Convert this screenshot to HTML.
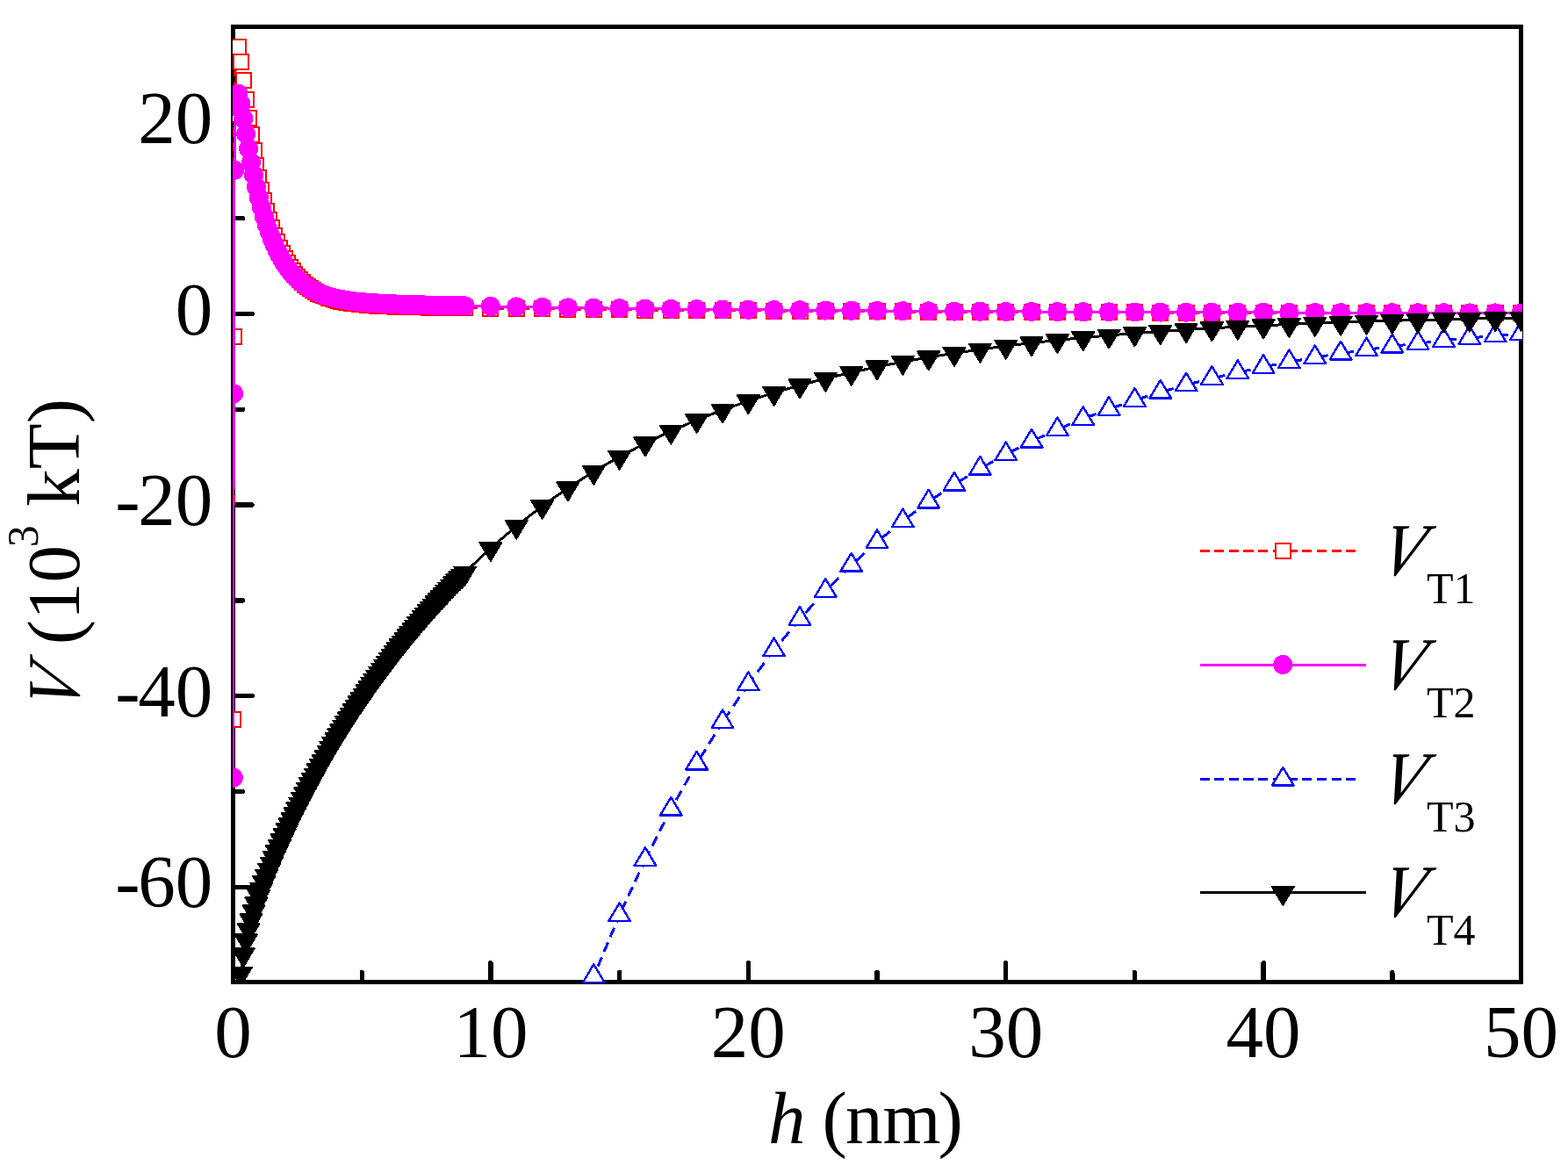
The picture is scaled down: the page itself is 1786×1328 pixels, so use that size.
<!DOCTYPE html>
<html lang="en">
<head>
<meta charset="utf-8">
<title>Interaction potential V versus separation h</title>
<style>
html,body{margin:0;padding:0;background:#fff;}
body{width:1786px;height:1328px;overflow:hidden;}
svg{display:block;}
text{font-family:"Liberation Serif",serif;font-size:85px;fill:#000;}
.s{font-size:50px;}
</style>
</head>
<body>
<svg width="1786" height="1328" viewBox="0 0 1786 1328" role="img" aria-label="Line chart of interaction potential V (10^3 kT) versus separation h (nm) for four curves VT1 to VT4">
<rect width="1786" height="1328" fill="#fff"/>
<defs>
<clipPath id="clip"><rect x="265" y="30" width="1469" height="1090"/></clipPath>
<rect id="mS" x="-8.5" y="-8.5" width="17.0" height="17.0" fill="#fff" stroke="#f00" stroke-width="2.0"/>
<circle id="mC" r="11.0" fill="#f0f"/>
<path id="mU" d="M0,-13.73 L12.30,6.87 L-12.30,6.87 Z" fill="#fff" stroke="#00f" stroke-width="2.4" stroke-linejoin="round"/>
<path id="mD" d="M-12.50,-6.50 L12.50,-6.50 L0,14.50 Z" fill="#000" stroke="#000" stroke-width="2.0" stroke-linejoin="round"/>
</defs>
<g shape-rendering="crispEdges">
<rect x="265.5" y="30.5" width="1467.0" height="1088.0" fill="none" stroke="#000" stroke-width="5"/>
<g stroke="#000" stroke-width="5.4" stroke-linecap="round">
<line x1="412.2" y1="1118.5" x2="412.2" y2="1107.6"/>
<line x1="558.9" y1="1118.5" x2="558.9" y2="1096.9"/>
<line x1="705.6" y1="1118.5" x2="705.6" y2="1107.6"/>
<line x1="852.3" y1="1118.5" x2="852.3" y2="1096.9"/>
<line x1="999" y1="1118.5" x2="999" y2="1107.6"/>
<line x1="1145.7" y1="1118.5" x2="1145.7" y2="1096.9"/>
<line x1="1292.4" y1="1118.5" x2="1292.4" y2="1107.6"/>
<line x1="1439.1" y1="1118.5" x2="1439.1" y2="1096.9"/>
<line x1="1585.8" y1="1118.5" x2="1585.8" y2="1107.6"/>
<line x1="265.5" y1="1010.3" x2="287.1" y2="1010.3"/>
<line x1="265.5" y1="901.5" x2="276.4" y2="901.5"/>
<line x1="265.5" y1="792.7" x2="287.1" y2="792.7"/>
<line x1="265.5" y1="683.9" x2="276.4" y2="683.9"/>
<line x1="265.5" y1="575.1" x2="287.1" y2="575.1"/>
<line x1="265.5" y1="466.3" x2="276.4" y2="466.3"/>
<line x1="265.5" y1="357.5" x2="287.1" y2="357.5"/>
<line x1="265.5" y1="248.7" x2="276.4" y2="248.7"/>
<line x1="265.5" y1="139.9" x2="287.1" y2="139.9"/>
</g>
<g clip-path="url(#clip)">
<path d="M266.1,383.3L266.1,391.3M266.1,397.8L266.1,408.2M266.1,414.5L266.1,424.9M266.1,431.1L266,441.5M266,447.8L266,458.2M266,464.4L266,474.8M266,481.1L266,491.5M266,497.8L266,508.2M266,514.4L266,524.8M266,531.1L266,541.5M266,547.7L266,558.1M266,564.4L266,574.8M266,581.1L265.9,591.5M265.9,597.7L265.9,608.1M265.9,614.4L265.9,624.8M265.9,631L265.9,641.4M265.9,647.7L265.9,658.1M265.9,664.4L265.9,674.8M265.9,681L265.9,691.4M265.9,697.7L265.9,708.1M265.9,714.3L265.9,724.7M265.9,731L265.8,741.4M265.8,747.7L265.8,758.1M265.8,764.3L265.8,774.7M265.8,781L265.8,791.4M265.8,797.6L265.8,808M265.8,814.3L265.8,819.9M267,130.8L266.9,138.8M266.9,145.3L266.9,155.7M266.9,162L266.8,172.4M266.8,178.6L266.8,189M266.7,195.3L266.7,205.7M266.7,211.9L266.6,222.3M266.6,228.6L266.6,239M266.6,245.3L266.5,255.7M266.5,261.9L266.5,272.3M266.5,278.6L266.4,289M266.4,295.2L266.4,305.6M266.3,311.9L266.3,322.3M266.3,328.6L266.2,339M266.2,345.2L266.2,355.6M266.2,361.9L266.1,372.3M266.1,378.5L266.1,383.3M268.4,61.7L268.3,69.7M268.1,76.2L267.9,86.6M267.8,92.9L267.6,103.3M267.4,109.5L267.2,119.9M267.1,126.2L267,130.8M271.4,53L268.7,61M274.3,70.3L272.9,62.3M271.8,55.8L271.4,53M277.2,91.9L276.1,83.9M275.3,77.4L274.3,70.3M280.2,113.6L279.1,105.6M278.2,99.1L277.2,91.9M283.1,134.4L282,126.4M281.1,119.9L280.2,113.6M286,153.8L284.8,145.8M283.8,139.3L283.1,134.4M289,171.6L287.7,163.6M286.6,157.1L286,153.8M291.9,188L290.5,180M289.3,173.5L289,171.6M294.8,202.9L293.3,194.9M292,188.4L291.9,188M297.8,216.5L296,208.5M300.7,228.9L298.8,220.9M303.6,240.2L301.6,232.2M306.6,250.4L304.3,242.4M309.5,259.6L307,251.6M312.4,268L309.7,260M315.4,275.7L312.4,268M318.3,282.6L315.4,275.7M321.2,288.8L318.3,282.6M324.2,294.5L321.2,288.8M327.1,299.6L324.2,294.5M330,304.3L327.1,299.6M333,308.5L330,304.3M335.9,312.3L333,308.5M338.9,315.8L335.9,312.3M341.8,318.9L338.9,315.8M344.7,321.8L341.8,318.9M347.7,324.3L344.7,321.8M350.6,326.7L347.7,324.3M353.5,328.8L350.6,326.7M356.5,330.7L353.5,328.8M359.4,332.4L356.5,330.7M362.3,334L359.4,332.4M365.3,335.4L362.3,334M368.2,336.7L365.3,335.4M371.1,337.9L368.2,336.7M374.1,339L371.1,337.9M377,339.9L374.1,339M379.9,340.8L377,339.9M382.9,341.6L379.9,340.8M385.8,342.3L382.9,341.6M388.7,343L385.8,342.3M391.7,343.6L388.7,343M394.6,344.1L391.7,343.6M397.5,344.6L394.6,344.1M400.5,345.1L397.5,344.6M403.4,345.5L400.5,345.1M406.3,345.9L403.4,345.5M409.3,346.2L406.3,345.9M412.2,346.5L409.3,346.2M415.1,346.8L412.2,346.5M418.1,347.1L415.1,346.8M421,347.3L418.1,347.1M423.9,347.6L421,347.3M426.9,347.8L423.9,347.6M429.8,348L426.9,347.8M432.7,348.1L429.8,348M435.7,348.3L432.7,348.1M438.6,348.5L435.7,348.3M441.5,348.6L438.6,348.5M444.5,348.7L441.5,348.6M447.4,348.9L444.5,348.7M450.3,349L447.4,348.9M453.3,349.1L450.3,349M456.2,349.2L453.3,349.1M459.1,349.3L456.2,349.2M462.1,349.4L459.1,349.3M465,349.4L462.1,349.4M467.9,349.5L465,349.4M470.9,349.6L467.9,349.5M473.8,349.7L470.9,349.6M476.7,349.7L473.8,349.7M479.7,349.8L476.7,349.7M482.6,349.9L479.7,349.8M485.6,349.9L482.6,349.9M488.5,350L485.6,349.9M491.4,350L488.5,350M494.4,350.1L491.4,350M497.3,350.2L494.4,350.1M500.2,350.2L497.3,350.2M503.2,350.3L500.2,350.2M506.1,350.3L503.2,350.3M509,350.4L506.1,350.3M512,350.4L509,350.4M514.9,350.4L512,350.4M517.8,350.5L514.9,350.4M520.8,350.5L517.8,350.5M523.7,350.6L520.8,350.5M526.6,350.6L523.7,350.6M529.6,350.7L526.6,350.6M558.9,351.1L550.9,351M544.4,350.9L534,350.7M588.2,351.4L580.2,351.3M573.7,351.2L563.3,351.1M617.6,351.8L609.6,351.7M603.1,351.6L592.7,351.5M646.9,352.1L638.9,352M632.4,351.9L622,351.8M676.3,352.4L668.3,352.3M661.8,352.2L651.4,352.1M705.6,352.7L697.6,352.6M691.1,352.5L680.7,352.4M734.9,353L726.9,352.9M720.4,352.8L710,352.7M764.3,353.2L756.3,353.1M749.8,353.1L739.4,353M793.6,353.5L785.6,353.4M779.1,353.3L768.7,353.3M823,353.7L815,353.6M808.5,353.6L798.1,353.5M852.3,353.9L844.3,353.8M837.8,353.8L827.4,353.7M881.6,354.1L873.6,354M867.1,354L856.7,353.9M911,354.3L903,354.2M896.5,354.2L886.1,354.1M940.3,354.5L932.3,354.4M925.8,354.4L915.4,354.3M969.7,354.6L961.7,354.6M955.2,354.5L944.8,354.5M999,354.8L991,354.7M984.5,354.7L974.1,354.7M1028.3,354.9L1020.3,354.9M1013.8,354.9L1003.4,354.8M1057.7,355.1L1049.7,355M1043.2,355L1032.8,355M1087,355.2L1079,355.2M1072.5,355.1L1062.1,355.1M1116.4,355.3L1108.4,355.3M1101.9,355.3L1091.5,355.2M1145.7,355.4L1137.7,355.4M1131.2,355.4L1120.8,355.3M1175,355.5L1167,355.5M1160.5,355.5L1150.1,355.4M1204.4,355.6L1196.4,355.6M1189.9,355.6L1179.5,355.5M1233.7,355.7L1225.7,355.7M1219.2,355.7L1208.8,355.6M1263.1,355.8L1255.1,355.8M1248.6,355.8L1238.2,355.7M1292.4,355.9L1284.4,355.9M1277.9,355.8L1267.5,355.8M1321.7,356L1313.7,355.9M1307.2,355.9L1296.8,355.9M1351.1,356L1343.1,356M1336.6,356L1326.2,356M1380.4,356.1L1372.4,356.1M1365.9,356.1L1355.5,356M1409.8,356.2L1401.8,356.1M1395.3,356.1L1384.9,356.1M1439.1,356.2L1431.1,356.2M1424.6,356.2L1414.2,356.2M1468.4,356.3L1460.4,356.3M1453.9,356.2L1443.5,356.2M1497.8,356.3L1489.8,356.3M1483.3,356.3L1472.9,356.3M1527.1,356.4L1519.1,356.3M1512.6,356.3L1502.2,356.3M1556.5,356.4L1548.5,356.4M1542,356.4L1531.6,356.4M1585.8,356.4L1577.8,356.4M1571.3,356.4L1560.9,356.4M1615.1,356.5L1607.1,356.5M1600.6,356.5L1590.2,356.5M1644.5,356.5L1636.5,356.5M1630,356.5L1619.6,356.5M1673.8,356.6L1665.8,356.5M1659.3,356.5L1648.9,356.5M1703.2,356.6L1695.2,356.6M1688.7,356.6L1678.3,356.6M1732.5,356.6L1724.5,356.6M1718,356.6L1707.6,356.6" fill="none" stroke="#f00" stroke-width="3.0"/>
<use href="#mS" x="265.8" y="819.9"/>
<use href="#mS" x="266.1" y="383.3"/>
<use href="#mS" x="267" y="130.8"/>
<use href="#mS" x="268.4" y="61.7"/>
<use href="#mS" x="271.4" y="53"/>
<use href="#mS" x="274.3" y="70.3"/>
<use href="#mS" x="277.2" y="91.9"/>
<use href="#mS" x="280.2" y="113.6"/>
<use href="#mS" x="283.1" y="134.4"/>
<use href="#mS" x="286" y="153.8"/>
<use href="#mS" x="289" y="171.6"/>
<use href="#mS" x="291.9" y="188"/>
<use href="#mS" x="294.8" y="202.9"/>
<use href="#mS" x="297.8" y="216.5"/>
<use href="#mS" x="300.7" y="228.9"/>
<use href="#mS" x="303.6" y="240.2"/>
<use href="#mS" x="306.6" y="250.4"/>
<use href="#mS" x="309.5" y="259.6"/>
<use href="#mS" x="312.4" y="268"/>
<use href="#mS" x="315.4" y="275.7"/>
<use href="#mS" x="318.3" y="282.6"/>
<use href="#mS" x="321.2" y="288.8"/>
<use href="#mS" x="324.2" y="294.5"/>
<use href="#mS" x="327.1" y="299.6"/>
<use href="#mS" x="330" y="304.3"/>
<use href="#mS" x="333" y="308.5"/>
<use href="#mS" x="335.9" y="312.3"/>
<use href="#mS" x="338.9" y="315.8"/>
<use href="#mS" x="341.8" y="318.9"/>
<use href="#mS" x="344.7" y="321.8"/>
<use href="#mS" x="347.7" y="324.3"/>
<use href="#mS" x="350.6" y="326.7"/>
<use href="#mS" x="353.5" y="328.8"/>
<use href="#mS" x="356.5" y="330.7"/>
<use href="#mS" x="359.4" y="332.4"/>
<use href="#mS" x="362.3" y="334"/>
<use href="#mS" x="365.3" y="335.4"/>
<use href="#mS" x="368.2" y="336.7"/>
<use href="#mS" x="371.1" y="337.9"/>
<use href="#mS" x="374.1" y="339"/>
<use href="#mS" x="377" y="339.9"/>
<use href="#mS" x="379.9" y="340.8"/>
<use href="#mS" x="382.9" y="341.6"/>
<use href="#mS" x="385.8" y="342.3"/>
<use href="#mS" x="388.7" y="343"/>
<use href="#mS" x="391.7" y="343.6"/>
<use href="#mS" x="394.6" y="344.1"/>
<use href="#mS" x="397.5" y="344.6"/>
<use href="#mS" x="400.5" y="345.1"/>
<use href="#mS" x="403.4" y="345.5"/>
<use href="#mS" x="406.3" y="345.9"/>
<use href="#mS" x="409.3" y="346.2"/>
<use href="#mS" x="412.2" y="346.5"/>
<use href="#mS" x="415.1" y="346.8"/>
<use href="#mS" x="418.1" y="347.1"/>
<use href="#mS" x="421" y="347.3"/>
<use href="#mS" x="423.9" y="347.6"/>
<use href="#mS" x="426.9" y="347.8"/>
<use href="#mS" x="429.8" y="348"/>
<use href="#mS" x="432.7" y="348.1"/>
<use href="#mS" x="435.7" y="348.3"/>
<use href="#mS" x="438.6" y="348.5"/>
<use href="#mS" x="441.5" y="348.6"/>
<use href="#mS" x="444.5" y="348.7"/>
<use href="#mS" x="447.4" y="348.9"/>
<use href="#mS" x="450.3" y="349"/>
<use href="#mS" x="453.3" y="349.1"/>
<use href="#mS" x="456.2" y="349.2"/>
<use href="#mS" x="459.1" y="349.3"/>
<use href="#mS" x="462.1" y="349.4"/>
<use href="#mS" x="465" y="349.4"/>
<use href="#mS" x="467.9" y="349.5"/>
<use href="#mS" x="470.9" y="349.6"/>
<use href="#mS" x="473.8" y="349.7"/>
<use href="#mS" x="476.7" y="349.7"/>
<use href="#mS" x="479.7" y="349.8"/>
<use href="#mS" x="482.6" y="349.9"/>
<use href="#mS" x="485.6" y="349.9"/>
<use href="#mS" x="488.5" y="350"/>
<use href="#mS" x="491.4" y="350"/>
<use href="#mS" x="494.4" y="350.1"/>
<use href="#mS" x="497.3" y="350.2"/>
<use href="#mS" x="500.2" y="350.2"/>
<use href="#mS" x="503.2" y="350.3"/>
<use href="#mS" x="506.1" y="350.3"/>
<use href="#mS" x="509" y="350.4"/>
<use href="#mS" x="512" y="350.4"/>
<use href="#mS" x="514.9" y="350.4"/>
<use href="#mS" x="517.8" y="350.5"/>
<use href="#mS" x="520.8" y="350.5"/>
<use href="#mS" x="523.7" y="350.6"/>
<use href="#mS" x="526.6" y="350.6"/>
<use href="#mS" x="529.6" y="350.7"/>
<use href="#mS" x="558.9" y="351.1"/>
<use href="#mS" x="588.2" y="351.4"/>
<use href="#mS" x="617.6" y="351.8"/>
<use href="#mS" x="646.9" y="352.1"/>
<use href="#mS" x="676.3" y="352.4"/>
<use href="#mS" x="705.6" y="352.7"/>
<use href="#mS" x="734.9" y="353"/>
<use href="#mS" x="764.3" y="353.2"/>
<use href="#mS" x="793.6" y="353.5"/>
<use href="#mS" x="823" y="353.7"/>
<use href="#mS" x="852.3" y="353.9"/>
<use href="#mS" x="881.6" y="354.1"/>
<use href="#mS" x="911" y="354.3"/>
<use href="#mS" x="940.3" y="354.5"/>
<use href="#mS" x="969.7" y="354.6"/>
<use href="#mS" x="999" y="354.8"/>
<use href="#mS" x="1028.3" y="354.9"/>
<use href="#mS" x="1057.7" y="355.1"/>
<use href="#mS" x="1087" y="355.2"/>
<use href="#mS" x="1116.4" y="355.3"/>
<use href="#mS" x="1145.7" y="355.4"/>
<use href="#mS" x="1175" y="355.5"/>
<use href="#mS" x="1204.4" y="355.6"/>
<use href="#mS" x="1233.7" y="355.7"/>
<use href="#mS" x="1263.1" y="355.8"/>
<use href="#mS" x="1292.4" y="355.9"/>
<use href="#mS" x="1321.7" y="356"/>
<use href="#mS" x="1351.1" y="356"/>
<use href="#mS" x="1380.4" y="356.1"/>
<use href="#mS" x="1409.8" y="356.2"/>
<use href="#mS" x="1439.1" y="356.2"/>
<use href="#mS" x="1468.4" y="356.3"/>
<use href="#mS" x="1497.8" y="356.3"/>
<use href="#mS" x="1527.1" y="356.4"/>
<use href="#mS" x="1556.5" y="356.4"/>
<use href="#mS" x="1585.8" y="356.4"/>
<use href="#mS" x="1615.1" y="356.5"/>
<use href="#mS" x="1644.5" y="356.5"/>
<use href="#mS" x="1673.8" y="356.6"/>
<use href="#mS" x="1703.2" y="356.6"/>
<use href="#mS" x="1732.5" y="356.6"/>
<polyline points="265.8,885.7 266.1,448.4 267,193.8 268.4,121.5 271.4,106.7 274.3,118.5 277.2,135.2 280.2,152.5 283.1,169.2 286,184.9 289,199.4 291.9,212.8 294.8,225 297.8,236.2 300.7,246.4 303.6,255.6 306.6,264 309.5,271.6 312.4,278.6 315.4,284.9 318.3,290.6 321.2,295.7 324.2,300.4 327.1,304.7 330,308.5 333,312 335.9,315.2 338.9,318.1 341.8,320.7 344.7,323 347.7,325.2 350.6,327.1 353.5,328.9 356.5,330.5 359.4,332 362.3,333.3 365.3,334.5 368.2,335.6 371.1,336.6 374.1,337.5 377,338.3 379.9,339 382.9,339.7 385.8,340.4 388.7,340.9 391.7,341.4 394.6,341.9 397.5,342.4 400.5,342.8 403.4,343.1 406.3,343.5 409.3,343.8 412.2,344.1 415.1,344.3 418.1,344.6 421,344.8 423.9,345 426.9,345.2 429.8,345.4 432.7,345.6 435.7,345.7 438.6,345.9 441.5,346 444.5,346.1 447.4,346.3 450.3,346.4 453.3,346.5 456.2,346.6 459.1,346.7 462.1,346.8 465,346.9 467.9,347 470.9,347.1 473.8,347.2 476.7,347.2 479.7,347.3 482.6,347.4 485.6,347.5 488.5,347.5 491.4,347.6 494.4,347.7 497.3,347.7 500.2,347.8 503.2,347.9 506.1,347.9 509,348 512,348.1 514.9,348.1 517.8,348.2 520.8,348.2 523.7,348.3 526.6,348.3 529.6,348.4 558.9,348.9 588.2,349.4 617.6,349.9 646.9,350.4 676.3,350.8 705.6,351.2 734.9,351.5 764.3,351.9 793.6,352.2 823,352.5 852.3,352.8 881.6,353.1 911,353.3 940.3,353.6 969.7,353.8 999,354 1028.3,354.2 1057.7,354.4 1087,354.6 1116.4,354.7 1145.7,354.9 1175,355 1204.4,355.1 1233.7,355.3 1263.1,355.4 1292.4,355.5 1321.7,355.6 1351.1,355.7 1380.4,355.8 1409.8,355.8 1439.1,355.9 1468.4,356 1497.8,356.1 1527.1,356.1 1556.5,356.2 1585.8,356.2 1615.1,356.3 1644.5,356.3 1673.8,356.4 1703.2,356.4 1732.5,356.5" fill="none" stroke="#f0f" stroke-width="3.0" stroke-linejoin="round"/>
<use href="#mC" x="265.8" y="885.7"/>
<use href="#mC" x="266.1" y="448.4"/>
<use href="#mC" x="267" y="193.8"/>
<use href="#mC" x="268.4" y="121.5"/>
<use href="#mC" x="271.4" y="106.7"/>
<use href="#mC" x="274.3" y="118.5"/>
<use href="#mC" x="277.2" y="135.2"/>
<use href="#mC" x="280.2" y="152.5"/>
<use href="#mC" x="283.1" y="169.2"/>
<use href="#mC" x="286" y="184.9"/>
<use href="#mC" x="289" y="199.4"/>
<use href="#mC" x="291.9" y="212.8"/>
<use href="#mC" x="294.8" y="225"/>
<use href="#mC" x="297.8" y="236.2"/>
<use href="#mC" x="300.7" y="246.4"/>
<use href="#mC" x="303.6" y="255.6"/>
<use href="#mC" x="306.6" y="264"/>
<use href="#mC" x="309.5" y="271.6"/>
<use href="#mC" x="312.4" y="278.6"/>
<use href="#mC" x="315.4" y="284.9"/>
<use href="#mC" x="318.3" y="290.6"/>
<use href="#mC" x="321.2" y="295.7"/>
<use href="#mC" x="324.2" y="300.4"/>
<use href="#mC" x="327.1" y="304.7"/>
<use href="#mC" x="330" y="308.5"/>
<use href="#mC" x="333" y="312"/>
<use href="#mC" x="335.9" y="315.2"/>
<use href="#mC" x="338.9" y="318.1"/>
<use href="#mC" x="341.8" y="320.7"/>
<use href="#mC" x="344.7" y="323"/>
<use href="#mC" x="347.7" y="325.2"/>
<use href="#mC" x="350.6" y="327.1"/>
<use href="#mC" x="353.5" y="328.9"/>
<use href="#mC" x="356.5" y="330.5"/>
<use href="#mC" x="359.4" y="332"/>
<use href="#mC" x="362.3" y="333.3"/>
<use href="#mC" x="365.3" y="334.5"/>
<use href="#mC" x="368.2" y="335.6"/>
<use href="#mC" x="371.1" y="336.6"/>
<use href="#mC" x="374.1" y="337.5"/>
<use href="#mC" x="377" y="338.3"/>
<use href="#mC" x="379.9" y="339"/>
<use href="#mC" x="382.9" y="339.7"/>
<use href="#mC" x="385.8" y="340.4"/>
<use href="#mC" x="388.7" y="340.9"/>
<use href="#mC" x="391.7" y="341.4"/>
<use href="#mC" x="394.6" y="341.9"/>
<use href="#mC" x="397.5" y="342.4"/>
<use href="#mC" x="400.5" y="342.8"/>
<use href="#mC" x="403.4" y="343.1"/>
<use href="#mC" x="406.3" y="343.5"/>
<use href="#mC" x="409.3" y="343.8"/>
<use href="#mC" x="412.2" y="344.1"/>
<use href="#mC" x="415.1" y="344.3"/>
<use href="#mC" x="418.1" y="344.6"/>
<use href="#mC" x="421" y="344.8"/>
<use href="#mC" x="423.9" y="345"/>
<use href="#mC" x="426.9" y="345.2"/>
<use href="#mC" x="429.8" y="345.4"/>
<use href="#mC" x="432.7" y="345.6"/>
<use href="#mC" x="435.7" y="345.7"/>
<use href="#mC" x="438.6" y="345.9"/>
<use href="#mC" x="441.5" y="346"/>
<use href="#mC" x="444.5" y="346.1"/>
<use href="#mC" x="447.4" y="346.3"/>
<use href="#mC" x="450.3" y="346.4"/>
<use href="#mC" x="453.3" y="346.5"/>
<use href="#mC" x="456.2" y="346.6"/>
<use href="#mC" x="459.1" y="346.7"/>
<use href="#mC" x="462.1" y="346.8"/>
<use href="#mC" x="465" y="346.9"/>
<use href="#mC" x="467.9" y="347"/>
<use href="#mC" x="470.9" y="347.1"/>
<use href="#mC" x="473.8" y="347.2"/>
<use href="#mC" x="476.7" y="347.2"/>
<use href="#mC" x="479.7" y="347.3"/>
<use href="#mC" x="482.6" y="347.4"/>
<use href="#mC" x="485.6" y="347.5"/>
<use href="#mC" x="488.5" y="347.5"/>
<use href="#mC" x="491.4" y="347.6"/>
<use href="#mC" x="494.4" y="347.7"/>
<use href="#mC" x="497.3" y="347.7"/>
<use href="#mC" x="500.2" y="347.8"/>
<use href="#mC" x="503.2" y="347.9"/>
<use href="#mC" x="506.1" y="347.9"/>
<use href="#mC" x="509" y="348"/>
<use href="#mC" x="512" y="348.1"/>
<use href="#mC" x="514.9" y="348.1"/>
<use href="#mC" x="517.8" y="348.2"/>
<use href="#mC" x="520.8" y="348.2"/>
<use href="#mC" x="523.7" y="348.3"/>
<use href="#mC" x="526.6" y="348.3"/>
<use href="#mC" x="529.6" y="348.4"/>
<use href="#mC" x="558.9" y="348.9"/>
<use href="#mC" x="588.2" y="349.4"/>
<use href="#mC" x="617.6" y="349.9"/>
<use href="#mC" x="646.9" y="350.4"/>
<use href="#mC" x="676.3" y="350.8"/>
<use href="#mC" x="705.6" y="351.2"/>
<use href="#mC" x="734.9" y="351.5"/>
<use href="#mC" x="764.3" y="351.9"/>
<use href="#mC" x="793.6" y="352.2"/>
<use href="#mC" x="823" y="352.5"/>
<use href="#mC" x="852.3" y="352.8"/>
<use href="#mC" x="881.6" y="353.1"/>
<use href="#mC" x="911" y="353.3"/>
<use href="#mC" x="940.3" y="353.6"/>
<use href="#mC" x="969.7" y="353.8"/>
<use href="#mC" x="999" y="354"/>
<use href="#mC" x="1028.3" y="354.2"/>
<use href="#mC" x="1057.7" y="354.4"/>
<use href="#mC" x="1087" y="354.6"/>
<use href="#mC" x="1116.4" y="354.7"/>
<use href="#mC" x="1145.7" y="354.9"/>
<use href="#mC" x="1175" y="355"/>
<use href="#mC" x="1204.4" y="355.1"/>
<use href="#mC" x="1233.7" y="355.3"/>
<use href="#mC" x="1263.1" y="355.4"/>
<use href="#mC" x="1292.4" y="355.5"/>
<use href="#mC" x="1321.7" y="355.6"/>
<use href="#mC" x="1351.1" y="355.7"/>
<use href="#mC" x="1380.4" y="355.8"/>
<use href="#mC" x="1409.8" y="355.8"/>
<use href="#mC" x="1439.1" y="355.9"/>
<use href="#mC" x="1468.4" y="356"/>
<use href="#mC" x="1497.8" y="356.1"/>
<use href="#mC" x="1527.1" y="356.1"/>
<use href="#mC" x="1556.5" y="356.2"/>
<use href="#mC" x="1585.8" y="356.2"/>
<use href="#mC" x="1615.1" y="356.3"/>
<use href="#mC" x="1644.5" y="356.3"/>
<use href="#mC" x="1673.8" y="356.4"/>
<use href="#mC" x="1703.2" y="356.4"/>
<use href="#mC" x="1732.5" y="356.5"/>
<path d="M676.3,1111.9L673.2,1119.9M705.6,1042.3L702.2,1050.3M699.5,1056.8L695.1,1067.2M692.5,1073.5L688.1,1083.9M685.5,1090.1L681.1,1100.5M678.4,1106.8L676.3,1111.9M734.9,979.1L731.2,987.1M728.2,993.6L723.4,1004M720.5,1010.2L715.7,1020.6M712.7,1026.9L707.9,1037.3M764.3,921.7L760.2,929.7M756.9,936.2L751.5,946.6M748.3,952.9L743,963.3M739.8,969.5L734.9,979.1M793.6,869.6L789.1,877.6M785.5,884.1L779.6,894.5M776.1,900.8L770.2,911.2M766.7,917.4L764.3,921.7M823,822.3L818,830.3M814,836.8L807.5,847.2M803.6,853.5L797.2,863.9M852.3,779.4L846.8,787.4M842.4,793.9L835.3,804.3M831,810.6L823.9,821M881.6,740.4L875.6,748.4M870.7,754.9L862.9,765.3M858.2,771.6L852.3,779.4M911,705L904.3,713M899,719.5L890.3,729.9M885.1,736.2L881.6,740.4M940.3,672.9L933,680.9M927.1,687.4L917.6,697.8M911.8,704.1L911,705M969.7,643.8L961.7,651.7M955.2,658.2L944.8,668.5M999,617.3L991,624.5M984.5,630.4L974.1,639.8M1028.3,593.3L1020.3,599.9M1013.8,605.2L1003.4,613.7M1057.7,571.5L1049.7,577.4M1043.2,582.3L1032.8,590M1087,551.7L1079,557.1M1072.5,561.5L1062.1,568.5M1116.4,533.7L1108.4,538.6M1101.9,542.6L1091.5,549M1145.7,517.4L1137.7,521.9M1131.2,525.5L1120.8,531.3M1175,502.6L1167,506.7M1160.5,509.9L1150.1,515.2M1204.4,489.2L1196.4,492.8M1189.9,495.8L1179.5,500.6M1233.7,477L1225.7,480.3M1219.2,483L1208.8,487.3M1263.1,465.9L1255.1,468.9M1248.6,471.4L1238.2,475.3M1292.4,455.9L1284.4,458.6M1277.9,460.8L1267.5,464.4M1321.7,446.7L1313.7,449.2M1307.2,451.2L1296.8,454.5M1351.1,438.4L1343.1,440.7M1336.6,442.5L1326.2,445.5M1380.4,430.9L1372.4,433M1365.9,434.6L1355.5,437.3M1409.8,424.1L1401.8,426M1395.3,427.5L1384.9,429.9M1439.1,417.9L1431.1,419.6M1424.6,421L1414.2,423.2M1468.4,412.3L1460.4,413.8M1453.9,415.1L1443.5,417M1497.8,407.2L1489.8,408.6M1483.3,409.7L1472.9,411.5M1527.1,402.5L1519.1,403.8M1512.6,404.8L1502.2,406.5M1556.5,398.3L1548.5,399.5M1542,400.4L1531.6,401.9M1585.8,394.5L1577.8,395.5M1571.3,396.4L1560.9,397.7M1615.1,391L1607.1,392M1600.6,392.7L1590.2,394M1644.5,387.9L1636.5,388.7M1630,389.4L1619.6,390.6M1673.8,385L1665.8,385.8M1659.3,386.4L1648.9,387.5M1703.2,382.4L1695.2,383.1M1688.7,383.7L1678.3,384.6M1732.5,380.1L1724.5,380.7M1718,381.2L1707.6,382.1" fill="none" stroke="#00f" stroke-width="3.0"/>
<use href="#mU" x="676.3" y="1111.9"/>
<use href="#mU" x="705.6" y="1042.3"/>
<use href="#mU" x="734.9" y="979.1"/>
<use href="#mU" x="764.3" y="921.7"/>
<use href="#mU" x="793.6" y="869.6"/>
<use href="#mU" x="823" y="822.3"/>
<use href="#mU" x="852.3" y="779.4"/>
<use href="#mU" x="881.6" y="740.4"/>
<use href="#mU" x="911" y="705"/>
<use href="#mU" x="940.3" y="672.9"/>
<use href="#mU" x="969.7" y="643.8"/>
<use href="#mU" x="999" y="617.3"/>
<use href="#mU" x="1028.3" y="593.3"/>
<use href="#mU" x="1057.7" y="571.5"/>
<use href="#mU" x="1087" y="551.7"/>
<use href="#mU" x="1116.4" y="533.7"/>
<use href="#mU" x="1145.7" y="517.4"/>
<use href="#mU" x="1175" y="502.6"/>
<use href="#mU" x="1204.4" y="489.2"/>
<use href="#mU" x="1233.7" y="477"/>
<use href="#mU" x="1263.1" y="465.9"/>
<use href="#mU" x="1292.4" y="455.9"/>
<use href="#mU" x="1321.7" y="446.7"/>
<use href="#mU" x="1351.1" y="438.4"/>
<use href="#mU" x="1380.4" y="430.9"/>
<use href="#mU" x="1409.8" y="424.1"/>
<use href="#mU" x="1439.1" y="417.9"/>
<use href="#mU" x="1468.4" y="412.3"/>
<use href="#mU" x="1497.8" y="407.2"/>
<use href="#mU" x="1527.1" y="402.5"/>
<use href="#mU" x="1556.5" y="398.3"/>
<use href="#mU" x="1585.8" y="394.5"/>
<use href="#mU" x="1615.1" y="391"/>
<use href="#mU" x="1644.5" y="387.9"/>
<use href="#mU" x="1673.8" y="385"/>
<use href="#mU" x="1703.2" y="382.4"/>
<use href="#mU" x="1732.5" y="380.1"/>
<polyline points="265.8,2872.3 266.1,1969.7 267,1426.4 268.4,1242.5 271.4,1145.4 274.3,1108.5 277.2,1086.7 280.2,1070.9 283.1,1058.3 286,1047.4 289,1037.6 291.9,1028.7 294.8,1020.3 297.8,1012.3 300.7,1004.7 303.6,997.3 306.6,990.2 309.5,983.2 312.4,976.4 315.4,969.8 318.3,963.3 321.2,956.9 324.2,950.6 327.1,944.5 330,938.4 333,932.4 335.9,926.5 338.9,920.7 341.8,915 344.7,909.3 347.7,903.7 350.6,898.2 353.5,892.7 356.5,887.3 359.4,882 362.3,876.7 365.3,871.5 368.2,866.4 371.1,861.3 374.1,856.2 377,851.3 379.9,846.3 382.9,841.5 385.8,836.6 388.7,831.9 391.7,827.2 394.6,822.5 397.5,817.9 400.5,813.3 403.4,808.8 406.3,804.3 409.3,799.9 412.2,795.5 415.1,791.1 418.1,786.8 421,782.6 423.9,778.4 426.9,774.2 429.8,770.1 432.7,766 435.7,762 438.6,758 441.5,754 444.5,750.1 447.4,746.2 450.3,742.4 453.3,738.6 456.2,734.8 459.1,731.1 462.1,727.4 465,723.8 467.9,720.1 470.9,716.6 473.8,713 476.7,709.5 479.7,706 482.6,702.6 485.6,699.2 488.5,695.8 491.4,692.5 494.4,689.2 497.3,685.9 500.2,682.7 503.2,679.5 506.1,676.3 509,673.2 512,670.1 514.9,667 517.8,663.9 520.8,660.9 523.7,657.9 526.6,655 529.6,652 558.9,624.3 588.2,599.2 617.6,576.4 646.9,555.8 676.3,537.1 705.6,520.2 734.9,504.9 764.3,491 793.6,478.4 823,467 852.3,456.7 881.6,447.3 911,438.8 940.3,431.1 969.7,424.2 999,417.9 1028.3,412.1 1057.7,406.9 1087,402.3 1116.4,398 1145.7,394.1 1175,390.6 1204.4,387.5 1233.7,384.6 1263.1,382 1292.4,379.6 1321.7,377.5 1351.1,375.5 1380.4,373.8 1409.8,372.2 1439.1,370.8 1468.4,369.4 1497.8,368.3 1527.1,367.2 1556.5,366.2 1585.8,365.3 1615.1,364.5 1644.5,363.8 1673.8,363.1 1703.2,362.5 1732.5,362" fill="none" stroke="#000" stroke-width="3.0" stroke-linejoin="round"/>
<use href="#mD" x="274.3" y="1108.5"/>
<use href="#mD" x="277.2" y="1086.7"/>
<use href="#mD" x="280.2" y="1070.9"/>
<use href="#mD" x="283.1" y="1058.3"/>
<use href="#mD" x="286" y="1047.4"/>
<use href="#mD" x="289" y="1037.6"/>
<use href="#mD" x="291.9" y="1028.7"/>
<use href="#mD" x="294.8" y="1020.3"/>
<use href="#mD" x="297.8" y="1012.3"/>
<use href="#mD" x="300.7" y="1004.7"/>
<use href="#mD" x="303.6" y="997.3"/>
<use href="#mD" x="306.6" y="990.2"/>
<use href="#mD" x="309.5" y="983.2"/>
<use href="#mD" x="312.4" y="976.4"/>
<use href="#mD" x="315.4" y="969.8"/>
<use href="#mD" x="318.3" y="963.3"/>
<use href="#mD" x="321.2" y="956.9"/>
<use href="#mD" x="324.2" y="950.6"/>
<use href="#mD" x="327.1" y="944.5"/>
<use href="#mD" x="330" y="938.4"/>
<use href="#mD" x="333" y="932.4"/>
<use href="#mD" x="335.9" y="926.5"/>
<use href="#mD" x="338.9" y="920.7"/>
<use href="#mD" x="341.8" y="915"/>
<use href="#mD" x="344.7" y="909.3"/>
<use href="#mD" x="347.7" y="903.7"/>
<use href="#mD" x="350.6" y="898.2"/>
<use href="#mD" x="353.5" y="892.7"/>
<use href="#mD" x="356.5" y="887.3"/>
<use href="#mD" x="359.4" y="882"/>
<use href="#mD" x="362.3" y="876.7"/>
<use href="#mD" x="365.3" y="871.5"/>
<use href="#mD" x="368.2" y="866.4"/>
<use href="#mD" x="371.1" y="861.3"/>
<use href="#mD" x="374.1" y="856.2"/>
<use href="#mD" x="377" y="851.3"/>
<use href="#mD" x="379.9" y="846.3"/>
<use href="#mD" x="382.9" y="841.5"/>
<use href="#mD" x="385.8" y="836.6"/>
<use href="#mD" x="388.7" y="831.9"/>
<use href="#mD" x="391.7" y="827.2"/>
<use href="#mD" x="394.6" y="822.5"/>
<use href="#mD" x="397.5" y="817.9"/>
<use href="#mD" x="400.5" y="813.3"/>
<use href="#mD" x="403.4" y="808.8"/>
<use href="#mD" x="406.3" y="804.3"/>
<use href="#mD" x="409.3" y="799.9"/>
<use href="#mD" x="412.2" y="795.5"/>
<use href="#mD" x="415.1" y="791.1"/>
<use href="#mD" x="418.1" y="786.8"/>
<use href="#mD" x="421" y="782.6"/>
<use href="#mD" x="423.9" y="778.4"/>
<use href="#mD" x="426.9" y="774.2"/>
<use href="#mD" x="429.8" y="770.1"/>
<use href="#mD" x="432.7" y="766"/>
<use href="#mD" x="435.7" y="762"/>
<use href="#mD" x="438.6" y="758"/>
<use href="#mD" x="441.5" y="754"/>
<use href="#mD" x="444.5" y="750.1"/>
<use href="#mD" x="447.4" y="746.2"/>
<use href="#mD" x="450.3" y="742.4"/>
<use href="#mD" x="453.3" y="738.6"/>
<use href="#mD" x="456.2" y="734.8"/>
<use href="#mD" x="459.1" y="731.1"/>
<use href="#mD" x="462.1" y="727.4"/>
<use href="#mD" x="465" y="723.8"/>
<use href="#mD" x="467.9" y="720.1"/>
<use href="#mD" x="470.9" y="716.6"/>
<use href="#mD" x="473.8" y="713"/>
<use href="#mD" x="476.7" y="709.5"/>
<use href="#mD" x="479.7" y="706"/>
<use href="#mD" x="482.6" y="702.6"/>
<use href="#mD" x="485.6" y="699.2"/>
<use href="#mD" x="488.5" y="695.8"/>
<use href="#mD" x="491.4" y="692.5"/>
<use href="#mD" x="494.4" y="689.2"/>
<use href="#mD" x="497.3" y="685.9"/>
<use href="#mD" x="500.2" y="682.7"/>
<use href="#mD" x="503.2" y="679.5"/>
<use href="#mD" x="506.1" y="676.3"/>
<use href="#mD" x="509" y="673.2"/>
<use href="#mD" x="512" y="670.1"/>
<use href="#mD" x="514.9" y="667"/>
<use href="#mD" x="517.8" y="663.9"/>
<use href="#mD" x="520.8" y="660.9"/>
<use href="#mD" x="523.7" y="657.9"/>
<use href="#mD" x="526.6" y="655"/>
<use href="#mD" x="529.6" y="652"/>
<use href="#mD" x="558.9" y="624.3"/>
<use href="#mD" x="588.2" y="599.2"/>
<use href="#mD" x="617.6" y="576.4"/>
<use href="#mD" x="646.9" y="555.8"/>
<use href="#mD" x="676.3" y="537.1"/>
<use href="#mD" x="705.6" y="520.2"/>
<use href="#mD" x="734.9" y="504.9"/>
<use href="#mD" x="764.3" y="491"/>
<use href="#mD" x="793.6" y="478.4"/>
<use href="#mD" x="823" y="467"/>
<use href="#mD" x="852.3" y="456.7"/>
<use href="#mD" x="881.6" y="447.3"/>
<use href="#mD" x="911" y="438.8"/>
<use href="#mD" x="940.3" y="431.1"/>
<use href="#mD" x="969.7" y="424.2"/>
<use href="#mD" x="999" y="417.9"/>
<use href="#mD" x="1028.3" y="412.1"/>
<use href="#mD" x="1057.7" y="406.9"/>
<use href="#mD" x="1087" y="402.3"/>
<use href="#mD" x="1116.4" y="398"/>
<use href="#mD" x="1145.7" y="394.1"/>
<use href="#mD" x="1175" y="390.6"/>
<use href="#mD" x="1204.4" y="387.5"/>
<use href="#mD" x="1233.7" y="384.6"/>
<use href="#mD" x="1263.1" y="382"/>
<use href="#mD" x="1292.4" y="379.6"/>
<use href="#mD" x="1321.7" y="377.5"/>
<use href="#mD" x="1351.1" y="375.5"/>
<use href="#mD" x="1380.4" y="373.8"/>
<use href="#mD" x="1409.8" y="372.2"/>
<use href="#mD" x="1439.1" y="370.8"/>
<use href="#mD" x="1468.4" y="369.4"/>
<use href="#mD" x="1497.8" y="368.3"/>
<use href="#mD" x="1527.1" y="367.2"/>
<use href="#mD" x="1556.5" y="366.2"/>
<use href="#mD" x="1585.8" y="365.3"/>
<use href="#mD" x="1615.1" y="364.5"/>
<use href="#mD" x="1644.5" y="363.8"/>
<use href="#mD" x="1673.8" y="363.1"/>
<use href="#mD" x="1703.2" y="362.5"/>
<use href="#mD" x="1732.5" y="362"/>
</g>
</g>
<g shape-rendering="crispEdges">
<line x1="1367.0" y1="627.6" x2="1543.6" y2="627.6" stroke="#f00" stroke-width="3.0" stroke-dasharray="11.3 5.4" stroke-dashoffset="0.8"/>
<use href="#mS" x="1461.3" y="627.6"/>
<line x1="1367.0" y1="757.0" x2="1556.0" y2="757.0" stroke="#f0f" stroke-width="3.0"/>
<use href="#mC" x="1461.3" y="757.0"/>
<line x1="1367.0" y1="887.6" x2="1543.6" y2="887.6" stroke="#00f" stroke-width="3.0" stroke-dasharray="11.3 5.4" stroke-dashoffset="0.8"/>
<use href="#mU" x="1461.3" y="887.6"/>
<line x1="1367.0" y1="1016.3" x2="1556.0" y2="1016.3" stroke="#000" stroke-width="3.0"/>
<use href="#mD" x="1461.3" y="1016.3"/>
</g>
<text x="265.5" y="1204.0" text-anchor="middle">0</text>
<text x="558.9" y="1204.0" text-anchor="middle">10</text>
<text x="852.3" y="1204.0" text-anchor="middle">20</text>
<text x="1145.7" y="1204.0" text-anchor="middle">30</text>
<text x="1439.1" y="1204.0" text-anchor="middle">40</text>
<text x="1732.5" y="1204.0" text-anchor="middle">50</text>
<text y="1033.3"><tspan x="131.2">-</tspan><tspan x="242.3" text-anchor="end">60</tspan></text>
<text y="815.7"><tspan x="131.2">-</tspan><tspan x="242.3" text-anchor="end">40</tspan></text>
<text y="598.1"><tspan x="131.2">-</tspan><tspan x="242.3" text-anchor="end">20</tspan></text>
<text x="242.3" y="380.5" text-anchor="end">0</text>
<text x="242.3" y="162.9" text-anchor="end">20</text>
<text y="1302.0"><tspan x="875.0" font-style="italic">h </tspan><tspan x="936.5">(</tspan><tspan x="963.0">nm</tspan><tspan x="1068.5">)</tspan></text>
<g transform="translate(90.0 796.0) rotate(-90)">
<text transform="translate(-16.6 0) skewX(-14.6) scale(0.89 1)" font-style="italic">V</text>
<text y="0"><tspan x="61.8">(10</tspan><tspan class="s" x="172.8" y="-47.3">3 </tspan><tspan x="219.3" y="0">kT)</tspan></text>
</g>
<text transform="translate(1568.6 655.1) skewX(-14.6) scale(0.89 1)" font-style="italic">V</text>
<text class="s" x="1625.0" y="687.1">T1</text>
<text transform="translate(1568.6 784.5) skewX(-14.6) scale(0.89 1)" font-style="italic">V</text>
<text class="s" x="1625.0" y="816.5">T2</text>
<text transform="translate(1568.6 915.1) skewX(-14.6) scale(0.89 1)" font-style="italic">V</text>
<text class="s" x="1625.0" y="947.1">T3</text>
<text transform="translate(1568.6 1043.8) skewX(-14.6) scale(0.89 1)" font-style="italic">V</text>
<text class="s" x="1625.0" y="1075.8">T4</text>
</svg>
</body>
</html>
